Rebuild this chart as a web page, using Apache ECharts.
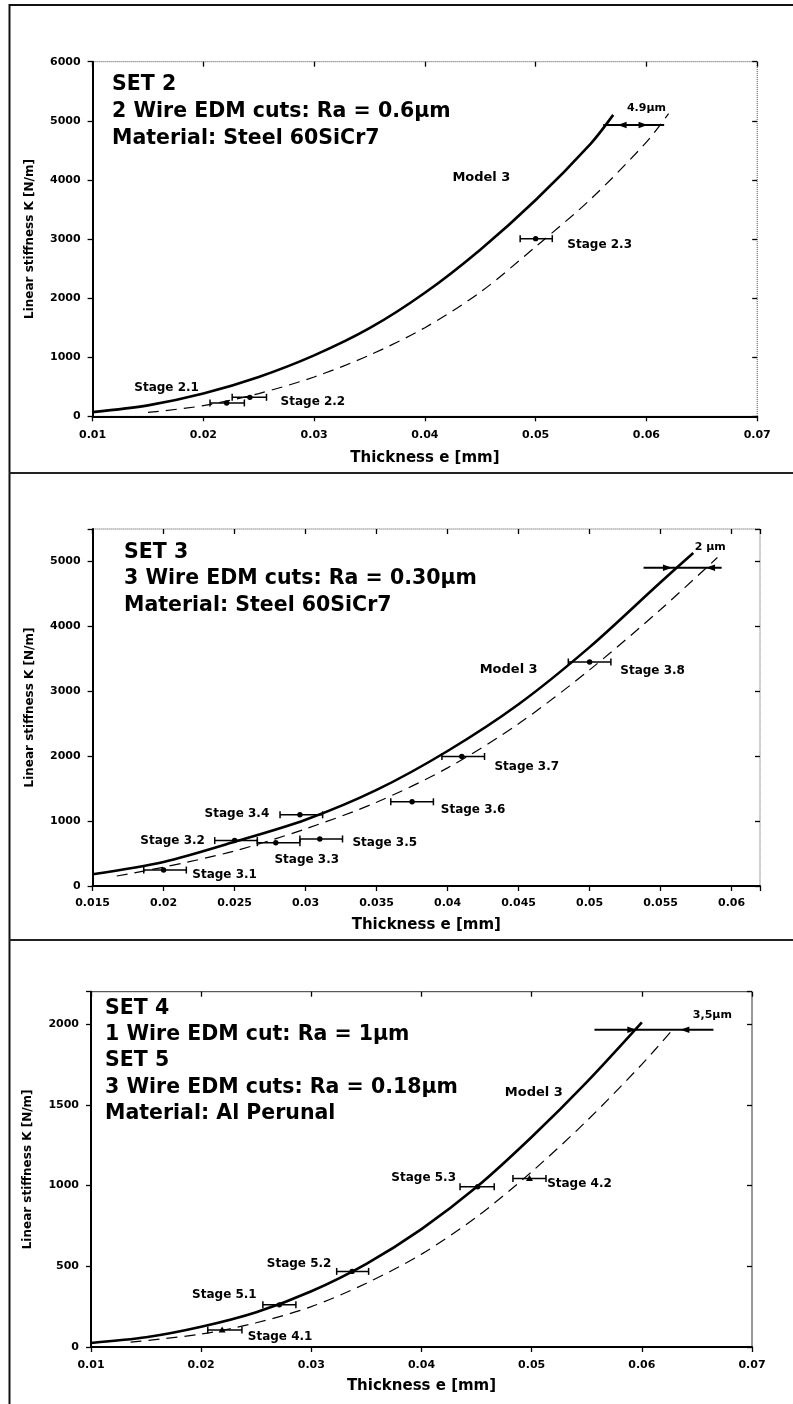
<!DOCTYPE html>
<html><head><meta charset="utf-8">
<script src="https://cdn.jsdelivr.net/npm/echarts@6/dist/echarts.min.js"></script>
<style>html,body{margin:0;padding:0;background:#fff}#c{width:793px;height:1404px}</style>
</head><body><div id="c"></div>
<script>
// ================= DATA =================
// Panel 1 : SET 2
const set2ModelX = [0.01, 0.015, 0.02, 0.025, 0.03, 0.035, 0.04, 0.045, 0.05, 0.055, 0.057];
const set2ModelK = [70, 185, 385, 665, 1030, 1490, 2090, 2820, 3660, 4620, 5100];
const set2ShiftX = [0.015, 0.02, 0.025, 0.03, 0.035, 0.04, 0.045, 0.05, 0.055, 0.06, 0.062];
const set2ShiftK = [65, 180, 385, 665, 1035, 1500, 2100, 2870, 3680, 4640, 5120];
const set2StageNames = ['Stage 2.1', 'Stage 2.2', 'Stage 2.3'];
const set2StageX = [0.0221, 0.0242, 0.0500];
const set2StageK = [226, 321, 3006];
const set2StageLo = [0.0206, 0.0226, 0.0486];
const set2StageHi = [0.0237, 0.0257, 0.0515];

// Panel 2 : SET 3
const set3ModelX = [0.015, 0.02, 0.025, 0.03, 0.035, 0.04, 0.045, 0.05, 0.055, 0.0573];
const set3ModelK = [180, 370, 680, 1020, 1480, 2080, 2800, 3680, 4680, 5130];
const set3ShiftX = [0.0167, 0.02, 0.025, 0.03, 0.035, 0.04, 0.045, 0.05, 0.055, 0.059];
const set3ShiftK = [154, 290, 540, 880, 1290, 1820, 2500, 3330, 4260, 5060];
const set3StageNames = ['Stage 3.1', 'Stage 3.2', 'Stage 3.3', 'Stage 3.4', 'Stage 3.5', 'Stage 3.6', 'Stage 3.7', 'Stage 3.8'];
const set3StageX = [0.0200, 0.0250, 0.0279, 0.0296, 0.0310, 0.0375, 0.0410, 0.0500];
const set3StageK = [246, 700, 667, 1097, 725, 1297, 1995, 3451];
const set3StageLo = [0.0186, 0.0236, 0.0266, 0.0282, 0.0296, 0.0360, 0.0396, 0.0485];
const set3StageHi = [0.0216, 0.0266, 0.0296, 0.0312, 0.0326, 0.0390, 0.0426, 0.0515];

// Panel 3 : SET 4 / SET 5
const set45ModelX = [0.01, 0.015, 0.02, 0.025, 0.03, 0.035, 0.04, 0.045, 0.05, 0.055, 0.06];
const set45ModelK = [25, 60, 125, 215, 345, 515, 730, 990, 1300, 1640, 2010];
const set45ShiftX = [0.0136, 0.02, 0.025, 0.03, 0.035, 0.04, 0.045, 0.05, 0.055, 0.06, 0.0626];
const set45ShiftK = [30, 80, 150, 250, 395, 575, 805, 1085, 1400, 1750, 1950];
const set45StageNames = ['Stage 4.1', 'Stage 5.1', 'Stage 5.2', 'Stage 5.3', 'Stage 4.2'];
const set45StageX = [0.0219, 0.0271, 0.0337, 0.0451, 0.0498];
const set45StageK = [106, 261, 468, 992, 1043];
const set45StageLo = [0.0206, 0.0256, 0.0323, 0.0435, 0.0483];
const set45StageHi = [0.0237, 0.0286, 0.0352, 0.0466, 0.0513];

// gap (dimension) annotations: K level, line from/to, arrow tips
const gapK = [4930, 4903, 1964];
const gapFrom = [0.0561, 0.0538, 0.0557];
const gapTo = [0.0616, 0.0593, 0.0665];
const gapArrowA = [0.0574, 0.0558, 0.0595];
const gapArrowB = [0.0601, 0.0582, 0.0635];
const gapLabels = ['4.9µm', '2 µm', '3,5µm'];
const gapLabelX = [0.0600, 0.0585, 0.0664];
const gapLabelK = [5216, 5215, 2054];
const modelLabelX = [0.0451, 0.0443, 0.0502];
const modelLabelK = [4032, 3338, 1573];

// axis ranges / ticks
const xMin = [0.01, 0.015, 0.01], xMax = [0.07, 0.062, 0.07], xStep = [0.01, 0.005, 0.01];
const yMin = [0, 0, 0], yMax = [6000, 5500, 2200], yStep = [1000, 1000, 500];

const headers = [
  ['SET 2', '2 Wire EDM cuts: Ra = 0.6µm', 'Material: Steel 60SiCr7'],
  ['SET 3', '3 Wire EDM cuts: Ra = 0.30µm', 'Material: Steel 60SiCr7'],
  ['SET 4', '1 Wire EDM cut: Ra = 1µm', 'SET 5', '3 Wire EDM cuts: Ra = 0.18µm', 'Material: Al Perunal']
];

// ================= LAYOUT / STYLE =================
const FONT = '"DejaVu Sans", "Liberation Sans", Arial, sans-serif';
const grids = [
  {left: 92.6, top: 61.7, width: 664.6, height: 354.6},
  {left: 92.6, top: 529, width: 667.4, height: 357},
  {left: 91, top: 991.7, width: 661, height: 355.3}
];
const xLabelMargin = [13, 11.5, 12.5];
const xNameGap = [34, 32, 32];
const stageOffsets = [
  [[-60, -15], [63, 5], [64, 6]],
  [[61, 5], [-62, 0], [31, 17], [-63, -1], [65, 4], [61, 8], [65, 10], [63, 9]],
  [[58, 7], [-55, -10], [-53, -8], [-54, -9], [50, 5]]
];
const stageMarkers = [
  ['circle', 'circle', 'circle'],
  ['circle','circle','circle','circle','circle','circle','circle','circle'],
  ['triangle', 'circle', 'circle', 'circle', 'triangle']
];
const headerX = [112, 124, 105];
const headerY = [[85, 111.7, 138.3], [553, 578.3, 605.7], [1008.3, 1034.3, 1061, 1087.3, 1113.3]];
const gapDirs = [[-1, 1], [1, -1], [1, -1]];

function zip(a, b) { return a.map((v, i) => [v, b[i]]); }
function fmtX(step) {
  return v => { const r = v / step; return Math.abs(r - Math.round(r)) < 1e-6 ? String(+v.toFixed(4)) : ''; };
}
function fmtY(step) { return v => (Math.abs(v % step) < 1e-6 ? String(v) : ''); }

const xAxes = [], yAxes = [], series = [];
for (let g = 0; g < 3; g++) {
  xAxes.push({
    type: 'value', gridIndex: g, min: xMin[g], max: xMax[g], interval: xStep[g],
    axisLine: {onZero: false, lineStyle: {color: '#000', width: 2}},
    axisTick: {length: 5, lineStyle: {color: '#000', width: 1.3}},
    axisLabel: {formatter: fmtX(xStep[g]), margin: xLabelMargin[g], color: '#000',
      fontFamily: FONT, fontWeight: 'bold', fontSize: 11, showMaxLabel: true},
    splitLine: {show: false},
    name: 'Thickness e [mm]', nameLocation: 'middle', nameGap: xNameGap[g],
    nameTextStyle: {color: '#000', fontFamily: FONT, fontWeight: 'bold', fontSize: 15}
  });
  yAxes.push({
    type: 'value', gridIndex: g, min: yMin[g], max: yMax[g], interval: yStep[g],
    axisLine: {onZero: false, lineStyle: {color: '#000', width: 2}},
    axisTick: {length: 5, lineStyle: {color: '#000', width: 1.3}},
    axisLabel: {formatter: fmtY(yStep[g]), margin: 12, color: '#000',
      fontFamily: FONT, fontWeight: 'bold', fontSize: 11},
    splitLine: {show: false},
    name: 'Linear stiffness K [N/m]', nameLocation: 'middle', nameGap: 57,
    nameTextStyle: {color: '#000', fontFamily: FONT, fontWeight: 'bold', fontSize: 12}
  });
}
// duplicate axes: inside ticks so the tick marks cross the axis line
for (let g = 0; g < 3; g++) {
  xAxes.push({type: 'value', gridIndex: g, min: xMin[g], max: xMax[g], interval: xStep[g],
    axisLine: {show: false, onZero: false}, axisTick: {inside: true, length: 5, lineStyle: {color: '#000', width: 1.3}},
    axisLabel: {show: false}, splitLine: {show: false}});
  yAxes.push({type: 'value', gridIndex: g, min: yMin[g], max: yMax[g], interval: yStep[g],
    axisLine: {show: false, onZero: false}, axisTick: {inside: true, length: 5, lineStyle: {color: '#000', width: 1.3}},
    axisLabel: {show: false}, splitLine: {show: false}});
}

const models = [zip(set2ModelX, set2ModelK), zip(set3ModelX, set3ModelK), zip(set45ModelX, set45ModelK)];
const shifts = [zip(set2ShiftX, set2ShiftK), zip(set3ShiftX, set3ShiftK), zip(set45ShiftX, set45ShiftK)];
const stages = [
  set2StageX.map((x, i) => [x, set2StageK[i], set2StageLo[i], set2StageHi[i], i]),
  set3StageX.map((x, i) => [x, set3StageK[i], set3StageLo[i], set3StageHi[i], i]),
  set45StageX.map((x, i) => [x, set45StageK[i], set45StageLo[i], set45StageHi[i], i])
];
const stageNames = [set2StageNames, set3StageNames, set45StageNames];

for (let g = 0; g < 3; g++) {
  series.push({
    type: 'line', xAxisIndex: g, yAxisIndex: g, data: models[g], showSymbol: false, smooth: 0.3,
    lineStyle: {color: '#000', width: 2.6}, z: 4, silent: true
  });
  series.push({
    type: 'line', xAxisIndex: g, yAxisIndex: g, data: shifts[g], showSymbol: false, smooth: 0.3,
    lineStyle: {color: '#000', width: 1.2, type: [11, 7]}, z: 3, silent: true
  });
  // error bars with stage labels
  series.push({
    type: 'custom', xAxisIndex: g, yAxisIndex: g, data: stages[g], encode: {x: 0, y: 1}, z: 5, silent: true,
    renderItem: (params, api) => {
      const x = api.value(0), y = api.value(1), lo = api.value(2), hi = api.value(3), i = api.value(4);
      const p = api.coord([x, y]), a = api.coord([lo, y]), b = api.coord([hi, y]);
      const st = {stroke: '#000', lineWidth: 1.5};
      const off = stageOffsets[g][i];
      const children = [
        {type: 'line', shape: {x1: a[0], y1: a[1], x2: b[0], y2: b[1]}, style: st},
        {type: 'line', shape: {x1: a[0], y1: a[1] - 3.5, x2: a[0], y2: a[1] + 3.5}, style: st},
        {type: 'line', shape: {x1: b[0], y1: b[1] - 3.5, x2: b[0], y2: b[1] + 3.5}, style: st}
      ];
      if (stageMarkers[g][i] === 'triangle') {
        children.push({type: 'polygon', shape: {points: [[p[0], p[1] - 3.5], [p[0] - 3.5, p[1] + 2.5], [p[0] + 3.5, p[1] + 2.5]]}, style: {fill: '#000'}});
      } else {
        children.push({type: 'circle', shape: {cx: p[0], cy: p[1], r: 2.7}, style: {fill: '#000'}});
      }
      children.push({type: 'text', x: p[0] + off[0], y: p[1] + off[1],
        style: {text: stageNames[g][i], fill: '#000', fontFamily: FONT, fontWeight: 'bold', fontSize: 12,
          align: 'center', verticalAlign: 'middle'}});
      return {type: 'group', children};
    }
  });
  // gap dimension line with arrows and labels
  series.push({
    type: 'custom', xAxisIndex: g, yAxisIndex: g, z: 6, silent: true,
    data: [[gapFrom[g], gapK[g], gapTo[g], gapArrowA[g], gapArrowB[g]]], encode: {x: 0, y: 1},
    renderItem: (params, api) => {
      const k = api.value(1);
      const a = api.coord([api.value(0), k]), b = api.coord([api.value(2), k]);
      const t1 = api.coord([api.value(3), k]), t2 = api.coord([api.value(4), k]);
      const arrow = (t, d) => ({type: 'polygon', shape: {points: [[t[0], t[1]], [t[0] - d * 9, t[1] - 3.2], [t[0] - d * 9, t[1] + 3.2]]}, style: {fill: '#000'}});
      return {type: 'group', children: [
        {type: 'line', shape: {x1: a[0], y1: a[1], x2: b[0], y2: b[1]}, style: {stroke: '#000', lineWidth: 2}},
        arrow(t1, gapDirs[g][0]), arrow(t2, gapDirs[g][1])
      ]};
    }
  });
  // text annotations anchored in data space
  series.push({
    type: 'custom', xAxisIndex: g, yAxisIndex: g, z: 6, silent: true,
    data: [[modelLabelX[g], modelLabelK[g], 0], [gapLabelX[g], gapLabelK[g], 1]], encode: {x: 0, y: 1},
    renderItem: (params, api) => {
      const p = api.coord([api.value(0), api.value(1)]);
      const isGap = api.value(2) === 1;
      return {type: 'text', x: p[0], y: p[1], style: {text: isGap ? gapLabels[g] : 'Model 3', fill: '#000',
        fontFamily: FONT, fontWeight: 'bold', fontSize: isGap ? 11 : 13, align: 'center', verticalAlign: 'middle'}};
    }
  });
}

// page frame and header texts
const graphic = [
  {type: 'line', shape: {x1: 9.5, y1: 4, x2: 9.5, y2: 1404}, style: {stroke: '#111', lineWidth: 2}},
  {type: 'line', shape: {x1: 9, y1: 5, x2: 793, y2: 5}, style: {stroke: '#111', lineWidth: 2}},
  {type: 'line', shape: {x1: 9, y1: 473, x2: 793, y2: 473}, style: {stroke: '#222', lineWidth: 2}},
  {type: 'line', shape: {x1: 9, y1: 940, x2: 793, y2: 940}, style: {stroke: '#222', lineWidth: 2}}
];
headers.forEach((lines, g) => {
  lines.forEach((t, j) => {
    graphic.push({type: 'text', x: headerX[g], y: headerY[g][j], z: 10,
      style: {text: t, fill: '#000', fontFamily: FONT, fontWeight: 'bold', fontSize: 20.5, verticalAlign: 'middle'}});
  });
});

const chart = echarts.init(document.getElementById('c'), null, {renderer: 'canvas'});
chart.setOption({
  animation: false,
  backgroundColor: '#fff',
  grid: grids.map((gr, i) => Object.assign({show: true, borderColor: i === 2 ? '#333' : '#444', borderWidth: 1,
    borderType: i === 2 ? 'solid' : 'dotted', backgroundColor: 'transparent'}, gr)),
  xAxis: xAxes,
  yAxis: yAxes,
  series: series,
  graphic: graphic
});
</script>
</body></html>
